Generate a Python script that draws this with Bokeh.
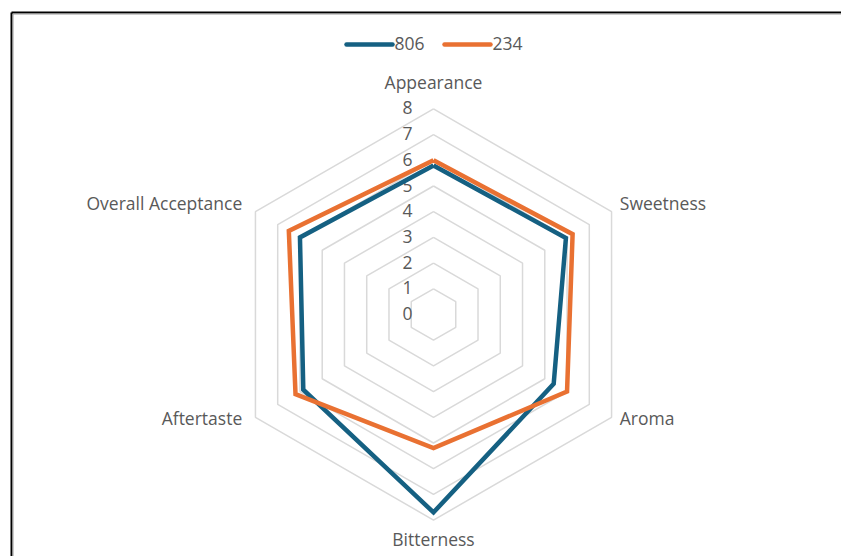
import numpy as np
from bokeh.plotting import figure
from bokeh.models import Range1d, ColumnDataSource
from bokeh.core.properties import value
from bokeh.embed import file_html
from bokeh.resources import INLINE

# ---- data ----
categories = ["Appearance", "Sweetness", "Aroma", "Bitterness", "Aftertaste", "Overall Acceptance"]
series_names = ["806", "234"]
values_806 = [5.8, 5.95, 5.4, 7.7, 5.85, 6.0]
values_234 = [6.0, 6.25, 6.0, 5.2, 6.2, 6.5]
tick_values = [0, 1, 2, 3, 4, 5, 6, 7, 8]
tick_labels = ["0", "1", "2", "3", "4", "5", "6", "7", "8"]

# ---- styling / layout ----
W, H = 841, 556
CX, CY = 433, 314          # radar centre in page pixels
UNIT = 25.7                # pixels per value unit
FONT = "Open Sans"
FSIZE = "17.5px"
TXT = "#595959"
GRID = "#D9D9D9"
COLORS = ["#156082", "#E97132"]

p = figure(width=W, height=H, output_backend="svg", toolbar_location=None,
           x_range=Range1d(0, W), y_range=Range1d(H, 0),
           min_border=0, outline_line_color=None)
p.axis.visible = False
p.grid.visible = False
p.background_fill_color = "white"
p.border_fill_color = "white"

n = len(categories)
angles = np.array([i * 2 * np.pi / n for i in range(n)])

def to_xy(vals):
    vals = np.asarray(vals, dtype=float)
    return CX + vals * UNIT * np.sin(angles), CY - vals * UNIT * np.cos(angles)

# grid hexagons for levels 1..8
for lv in tick_values[1:]:
    gx, gy = to_xy([lv] * n)
    p.line(list(gx) + [gx[0]], list(gy) + [gy[0]], line_color=GRID, line_width=1.5)

# tick labels
p.text(x=[CX - 21] * len(tick_values),
       y=[CY - v * UNIT - 1 for v in tick_values],
       text=tick_labels, text_align="right", text_baseline="middle",
       text_font=value(FONT), text_font_size=FSIZE, text_color=TXT)

# series
for vals, col in zip([values_806, values_234], COLORS):
    sx, sy = to_xy(vals)
    p.line(list(sx) + [sx[0]], list(sy) + [sy[0]], line_color=col, line_width=4.5,
           line_join="miter")

# category labels
radii = []
aligns = []
xoff = []
for a in angles:
    s = np.sin(a)
    if abs(s) < 1e-6:
        aligns.append("center"); radii.append(8.9); xoff.append(0)
    elif s > 0:
        aligns.append("left"); radii.append(8.37); xoff.append(0)
    else:
        aligns.append("right"); radii.append(8.37); xoff.append(-5)
lx, ly = to_xy(radii)
lab_src = ColumnDataSource(dict(x=[x + o for x, o in zip(lx, xoff)],
                                y=[v - 4 for v in ly],
                                text=categories, align=aligns))
p.text(x="x", y="y", text="text", text_align="align", text_baseline="middle",
       source=lab_src, text_font=value(FONT), text_font_size=FSIZE, text_color=TXT)

# legend (manual, horizontal at top)
leg_x = [346, 444]
leg_y = 44
for i, (name, col) in enumerate(zip(series_names, COLORS)):
    p.line([leg_x[i], leg_x[i] + 46], [leg_y, leg_y], line_color=col, line_width=4.5,
           line_cap="round")
    p.text(x=[leg_x[i] + 48], y=[leg_y - 1], text=[name], text_baseline="middle",
           text_font=value(FONT), text_font_size=FSIZE, text_color=TXT)

# partial frame border (top and left)
p.line([11, W], [12, 12], line_color="black", line_width=2)
p.line([11, 11], [12, H], line_color="black", line_width=2)
p.line([12.5, W], [13.5, 13.5], line_color="#9a9a9a", line_width=1)
p.line([12.5, 12.5], [13.5, H], line_color="#9a9a9a", line_width=1)

open("out.html", "w").write(file_html(p, INLINE))
